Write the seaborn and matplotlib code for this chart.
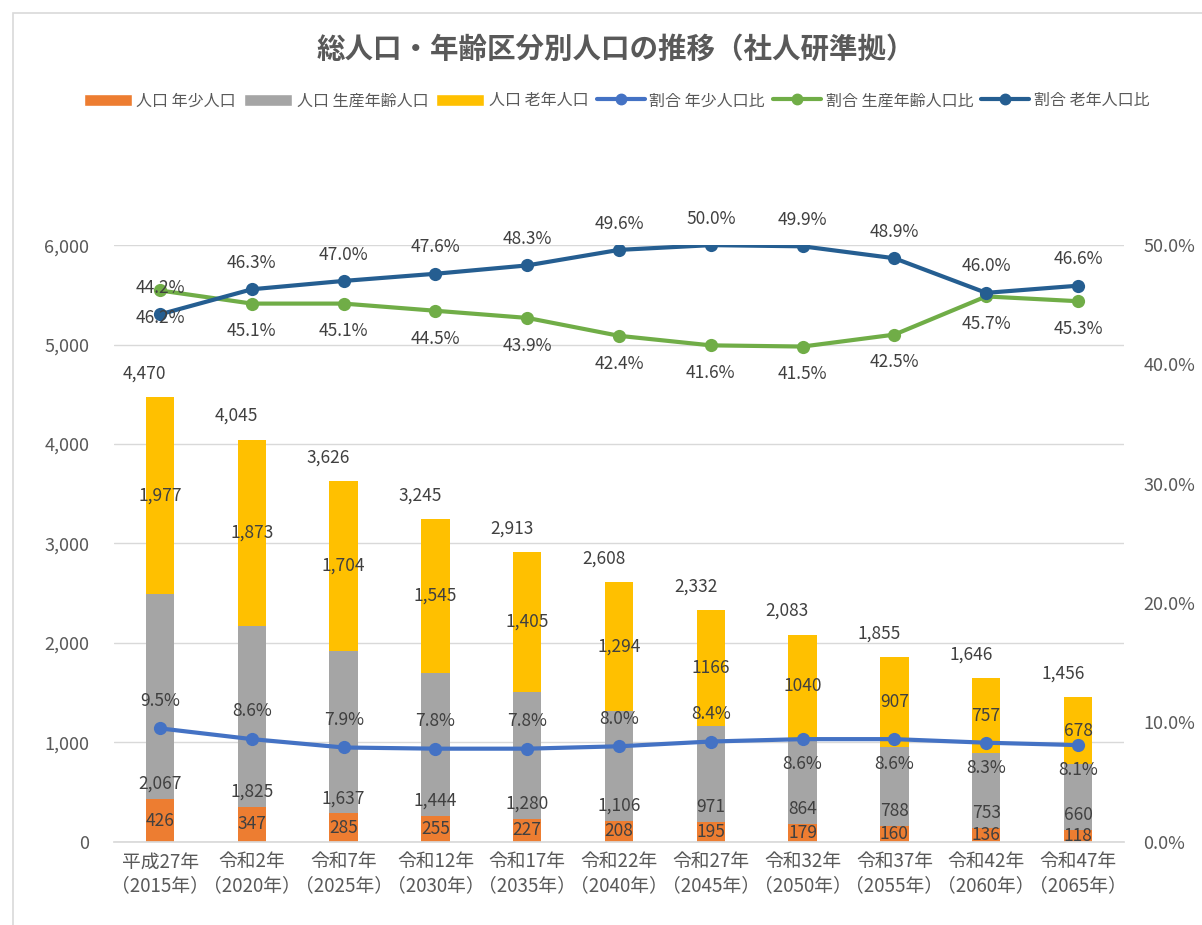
import numpy as np
import pandas as pd
import matplotlib
matplotlib.use("Agg")
import matplotlib.pyplot as plt
from matplotlib.lines import Line2D
from matplotlib.patches import Patch, Rectangle
import seaborn as sns

# --- data ---
years = ["平成27年\n（2015年）", "令和2年\n（2020年）", "令和7年\n（2025年）", "令和12年\n（2030年）",
         "令和17年\n（2035年）", "令和22年\n（2040年）", "令和27年\n（2045年）", "令和32年\n（2050年）",
         "令和37年\n（2055年）", "令和42年\n（2060年）", "令和47年\n（2065年）"]
young = [426, 347, 285, 255, 227, 208, 195, 179, 160, 136, 118]
working = [2067, 1825, 1637, 1444, 1280, 1106, 971, 864, 788, 753, 660]
old = [1977, 1873, 1704, 1545, 1405, 1294, 1166, 1040, 907, 757, 678]
total = [4470, 4045, 3626, 3245, 2913, 2608, 2332, 2083, 1855, 1646, 1456]
old_labels = ["1,977", "1,873", "1,704", "1,545", "1,405", "1,294", "1166", "1040", "907", "757", "678"]
young_ratio = [9.5, 8.6, 7.9, 7.8, 7.8, 8.0, 8.4, 8.6, 8.6, 8.3, 8.1]
working_ratio = [46.2, 45.1, 45.1, 44.5, 43.9, 42.4, 41.6, 41.5, 42.5, 45.7, 45.3]
old_ratio = [44.2, 46.3, 47.0, 47.6, 48.3, 49.6, 50.0, 49.9, 48.9, 46.0, 46.6]
young_ratio_above = [True] * 7 + [False] * 4

C_YOUNG = "#ED7D31"
C_WORK = "#A5A5A5"
C_OLD = "#FFC000"
C_LYOUNG = "#4472C4"
C_LWORK = "#70AD47"
C_LOLD = "#255E91"
TXT = "#404040"
AX_TXT = "#595959"
LBL = 12.5

sns.set_theme(style="white")
plt.rcParams['font.family'] = ['Noto Sans CJK JP', 'DejaVu Sans']

df = pd.DataFrame({"year": years, "young": young, "working": working, "old": old})
df["cum_work"] = df["young"] + df["working"]
df["cum_old"] = df["cum_work"] + df["old"]

fig = plt.figure(figsize=(12.02, 9.25), dpi=100)
ax = fig.add_axes([0.095, 0.09, 0.84, 0.645])

# stacked bars drawn back to front
for col, color in [("cum_old", C_OLD), ("cum_work", C_WORK), ("young", C_YOUNG)]:
    sns.barplot(data=df, x="year", y=col, color=color, width=0.31, saturation=1,
                errorbar=None, ax=ax, zorder=2, linewidth=0, edgecolor=color)

ax.set_ylim(0, 6000)
ax.set_xlim(-0.5, len(years) - 0.5)
ax.set_yticks(range(0, 6001, 1000))
ax.set_yticklabels([f"{v:,}" for v in range(0, 6001, 1000)])
ax.yaxis.grid(True, color="#D9D9D9", linewidth=1, zorder=0)
ax.set_axisbelow(True)
ax.set_xlabel("")
ax.set_ylabel("")
for s in ax.spines.values():
    s.set_visible(False)
ax.spines["bottom"].set_visible(True)
ax.spines["bottom"].set_color("#D9D9D9")
ax.tick_params(axis="y", colors=AX_TXT, labelsize=13, length=0, pad=18)
ax.tick_params(axis="x", colors=AX_TXT, labelsize=13.5, length=0, pad=7)

# bar labels
x = np.arange(len(years))
for i in x:
    ax.annotate(f"{total[i]:,}", (i, total[i]), xytext=(-11, 17), textcoords="offset points",
                ha="center", va="center", fontsize=LBL, color=TXT)
    ax.annotate(old_labels[i], (i, df["cum_work"][i] + old[i] / 2), ha="center", va="center",
                fontsize=LBL, color=TXT)
    ax.annotate(f"{working[i]:,}", (i, young[i]), xytext=(0, 11), textcoords="offset points",
                ha="center", va="center", fontsize=LBL, color=TXT)
    ax.annotate(f"{young[i]}", (i, young[i] / 2), ha="center", va="center", fontsize=LBL, color=TXT)

# ratio lines on right axis
ax2 = ax.twinx()
ax2.set_ylim(0, 50)
rdf = pd.DataFrame({"x": x, "young": young_ratio, "working": working_ratio, "old": old_ratio})
for col, color in [("young", C_LYOUNG), ("working", C_LWORK), ("old", C_LOLD)]:
    sns.lineplot(data=rdf, x="x", y=col, color=color, linewidth=3, marker="o",
                 markersize=9.5, markeredgewidth=0, ax=ax2, sort=False, zorder=3)
ax2.set_yticks(range(0, 51, 10))
ax2.set_yticklabels([f"{v:.1f}%" for v in range(0, 51, 10)])
ax2.tick_params(axis="y", colors=AX_TXT, labelsize=13, length=0, pad=14)
ax2.set_ylabel("")
ax2.set_xlabel("")
ax2.grid(False)
for s in ax2.spines.values():
    s.set_visible(False)
ax2.set_xlim(-0.5, len(years) - 0.5)

for i in x:
    ax2.annotate(f"{old_ratio[i]:.1f}%", (i, old_ratio[i]), xytext=(0, 19), textcoords="offset points",
                 ha="center", va="center", fontsize=LBL, color=TXT)
    ax2.annotate(f"{working_ratio[i]:.1f}%", (i, working_ratio[i]), xytext=(0, -20),
                 textcoords="offset points", ha="center", va="center", fontsize=LBL, color=TXT)
    dy = 20 if young_ratio_above[i] else -18
    ax2.annotate(f"{young_ratio[i]:.1f}%", (i, young_ratio[i]), xytext=(0, dy),
                 textcoords="offset points", ha="center", va="center", fontsize=LBL, color=TXT)

# title and legend
fig.text(0.512, 0.946, "総人口・年齢区分別人口の推移（社人研準拠）", ha="center", va="center",
         fontsize=20.5, fontweight="bold", color=AX_TXT)
handles = [
    Patch(facecolor=C_YOUNG), Patch(facecolor=C_WORK), Patch(facecolor=C_OLD),
    Line2D([], [], color=C_LYOUNG, lw=3, marker="o", ms=7.5),
    Line2D([], [], color=C_LWORK, lw=3, marker="o", ms=7.5),
    Line2D([], [], color=C_LOLD, lw=3, marker="o", ms=7.5),
]
labels = ["人口 年少人口", "人口 生産年齢人口", "人口 老年人口",
          "割合 年少人口比", "割合 生産年齢人口比", "割合 老年人口比"]
fig.legend(handles, labels, loc="center", bbox_to_anchor=(0.513, 0.891), ncol=6, frameon=False,
           fontsize=11.5, labelcolor=AX_TXT, handlelength=3.0, handleheight=0.8,
           handletextpad=0.3, columnspacing=0.5)

# chart border
fig.add_artist(Rectangle((0.011, -0.1), 1.2, 1.086, transform=fig.transFigure, fill=False,
                         edgecolor="#D9D9D9", linewidth=1.2))

fig.savefig("out.png", dpi=100, facecolor="white")
